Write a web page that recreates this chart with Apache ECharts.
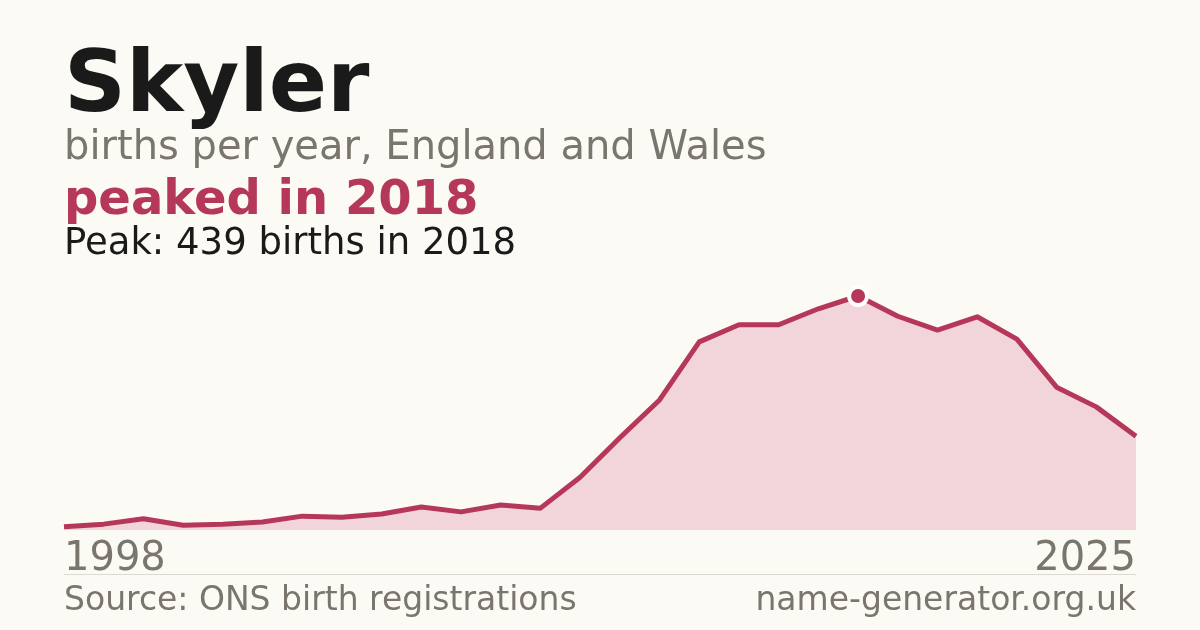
<!DOCTYPE html>
<html><head><meta charset="utf-8">
<script src="https://cdn.jsdelivr.net/npm/echarts@6/dist/echarts.min.js"></script>
<style>html,body{margin:0;padding:0;background:#fbfaf5;}#c{width:1200px;height:630px;}</style>
</head><body><div id="c"></div>
<script>
const years = ['1998','1999','2000','2001','2002','2003','2004','2005','2006','2007','2008','2009','2010','2011','2012','2013','2014','2015','2016','2017','2018','2019','2020','2021','2022','2023','2024','2025'];
const births = [6,11,21,9,11,15,26,24,30,43,34,47,41,99,173,244,353,385,385,415,439,401,375,400,358,268,231,176];
const peakYear = '2018';
const peakValue = 439;

const RED = '#b5385a', GREY = '#7a756d', DARK = '#1a1a1a';
const FONT = 'DejaVu Sans';
function txt(x, y, text, color, size, weight, align) {
  const el = {type: 'text', top: y, style: {text: text, fill: color, fontFamily: FONT, fontSize: size, fontWeight: weight || 'normal'}};
  if (align === 'right') el.right = x; else el.left = x;
  return el;
}
const chart = echarts.init(document.getElementById('c'), null, {renderer:'canvas'});
chart.setOption({
  backgroundColor: '#fbfaf5',
  animation: false,
  grid: {left: 64, right: 64, top: 296, bottom: 100},
  xAxis: {
    type: 'category', data: years, boundaryGap: false,
    axisLine: {show: false}, axisTick: {show: false}, splitLine: {show: false},
    axisLabel: {
      interval: function(i){ return i === 0 || i === years.length - 1; },
      color: GREY, fontFamily: FONT, fontSize: 40, margin: 10,
      alignMinLabel: 'left', alignMaxLabel: 'right'
    }
  },
  yAxis: {type: 'value', min: 0, max: peakValue, show: false, splitLine: {show: false}},
  series: [{
    type: 'line', data: births, showSymbol: false, symbol: 'none',
    lineStyle: {color: RED, width: 5, join: 'round'},
    areaStyle: {color: '#f2d5db', opacity: 1},
    markPoint: {
      symbol: 'circle', symbolSize: 18, silent: true,
      itemStyle: {color: RED, borderColor: '#ffffff', borderWidth: 4},
      label: {show: false},
      data: [{coord: [peakYear, peakValue]}]
    }
  }],
  graphic: [
    txt(64, 46, 'Skyler', DARK, 86, 'bold'),
    txt(64, 129, 'births per year, England and Wales', GREY, 40),
    txt(64, 178, 'peaked in ' + peakYear, RED, 48, 'bold'),
    txt(64, 226, 'Peak: ' + peakValue + ' births in ' + peakYear, DARK, 37),
    {type: 'line', shape: {x1: 64, y1: 574.5, x2: 1136, y2: 574.5}, style: {stroke: '#ddd8d0', lineWidth: 1}},
    txt(64, 585, 'Source: ONS birth registrations', GREY, 33),
    txt(64, 585, 'name-generator.org.uk', GREY, 33, 'normal', 'right')
  ]
});
</script></body></html>
